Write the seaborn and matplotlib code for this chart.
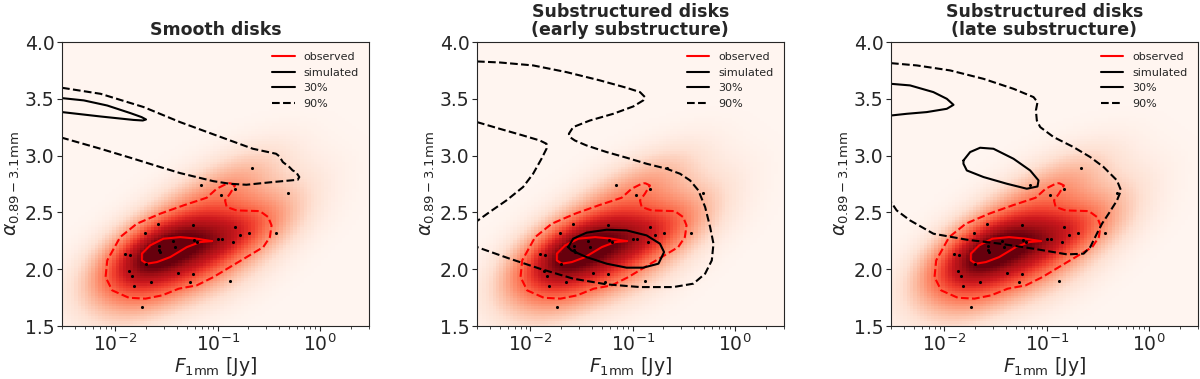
import matplotlib
matplotlib.use("Agg")
import matplotlib.pyplot as plt
import numpy as np
import seaborn as sns
from matplotlib.lines import Line2D
from seaborn._statistics import KDE

sns.set_style("ticks")
plt.rcParams['font.family'] = ['DejaVu Sans']

# observed disks: 1 mm flux [Jy] and spectral index
obs_flux = [0.216, 0.068, 0.484, 0.107, 0.147, 0.373, 0.0262, 0.0577, 0.147, 0.0196,
            0.201, 0.164, 0.0366, 0.0586, 0.0627, 0.101, 0.111, 0.141, 0.0268, 0.038,
            0.0265, 0.0275, 0.0123, 0.0140, 0.0199, 0.0135, 0.0145, 0.0413, 0.0573, 0.0224,
            0.0536, 0.0152, 0.0183, 0.132]
obs_alpha = [2.89, 2.744, 2.674, 2.650, 2.71, 2.322, 2.395, 2.389, 2.371, 2.316,
             2.319, 2.301, 2.245, 2.254, 2.237, 2.266, 2.269, 2.240, 2.204, 2.199,
             2.17, 2.155, 2.134, 2.125, 2.046, 1.984, 1.943, 1.967, 1.958, 1.887,
             1.890, 1.849, 1.667, 1.893]

titles = ["Smooth disks", "Substructured disks\n(early substructure)",
          "Substructured disks\n(late substructure)"]

# observed contours (flux, alpha)
obs_30_flux = [0.0875, 0.0624, 0.0430, 0.02944, 0.02183, 0.01811, 0.01811, 0.02028, 0.02541,
               0.0343, 0.0499, 0.0673, 0.0875]
obs_30_alpha = [2.248, 2.269, 2.283, 2.269, 2.210, 2.137, 2.078, 2.049, 2.063,
                2.107, 2.195, 2.239, 2.248]
obs_90_flux = [0.1318, 0.1476, 0.1318, 0.118, 0.1225, 0.1532, 0.2588, 0.3123, 0.3366, 0.3243,
               0.2791, 0.1919, 0.1318, 0.0908, 0.0624, 0.0416, 0.02858, 0.01966, 0.01352, 0.00929,
               0.00800, 0.00831, 0.01112, 0.01618, 0.02735, 0.04624, 0.0782, 0.0978, 0.1225, 0.1318]
obs_90_alpha = [2.759, 2.738, 2.665, 2.606, 2.548, 2.518, 2.512, 2.459, 2.386, 2.283,
                2.195, 2.107, 2.019, 1.931, 1.858, 1.829, 1.770, 1.741, 1.749, 1.814,
                1.931, 2.078, 2.283, 2.401, 2.489, 2.562, 2.630, 2.709, 2.753, 2.759]

# simulated contours (flux, alpha)
smooth_30_flux = [0.003, 0.0049, 0.0083, 0.014, 0.018, 0.0199, 0.0185, 0.015, 0.0072, 0.003]
smooth_30_alpha = [3.507, 3.487, 3.442, 3.375, 3.34, 3.319, 3.31, 3.315, 3.345, 3.384]
smooth_90_flux = [0.003, 0.00715, 0.0189, 0.0428, 0.0974, 0.221, 0.373, 0.402, 0.434, 0.503,
                  0.542, 0.584, 0.629, 0.607, 0.347, 0.1906, 0.131, 0.0903, 0.0428, 0.0274,
                  0.01507, 0.00715, 0.003]
smooth_90_alpha = [3.598, 3.545, 3.428, 3.296, 3.178, 3.061, 3.017, 2.994, 2.944, 2.90,
                   2.87, 2.856, 2.812, 2.788, 2.768, 2.744, 2.753, 2.776, 2.847, 2.90,
                   2.973, 3.061, 3.158]

early_30_flux = [0.0234, 0.0262, 0.0354, 0.0556, 0.0873, 0.137, 0.185, 0.203, 0.179, 0.127,
                 0.0873, 0.0556, 0.0354, 0.0252, 0.0234]
early_30_alpha = [2.195, 2.269, 2.322, 2.348, 2.342, 2.298, 2.225, 2.151, 2.049, 2.014,
                  2.014, 2.049, 2.107, 2.166, 2.195]
early_90a_flux = [0.003, 0.0050, 0.01062, 0.02254, 0.0479, 0.0873, 0.118, 0.132, 0.127, 0.1016,
                  0.0646, 0.0382, 0.0262, 0.02377, 0.0243, 0.0272, 0.0354, 0.0556, 0.0873, 0.137,
                  0.215, 0.291, 0.365, 0.440, 0.512, 0.573, 0.618, 0.595, 0.512, 0.393,
                  0.250, 0.118, 0.0556, 0.0262, 0.01235, 0.00627, 0.003]
early_90a_alpha = [3.830, 3.821, 3.795, 3.736, 3.663, 3.598, 3.560, 3.516, 3.487, 3.434,
                   3.369, 3.310, 3.252, 3.193, 3.164, 3.134, 3.090, 3.032, 2.982, 2.929,
                   2.885, 2.841, 2.782, 2.694, 2.548, 2.371, 2.225, 2.078, 1.961, 1.873,
                   1.843, 1.843, 1.867, 1.917, 2.005, 2.093, 2.195]
early_90b_flux = [0.003, 0.0050, 0.00847, 0.01235, 0.01436, 0.01436, 0.01283, 0.01062, 0.00847,
                  0.00582, 0.00399, 0.003]
early_90b_alpha = [3.296, 3.237, 3.178, 3.134, 3.105, 3.061, 2.973, 2.841, 2.724,
                   2.606, 2.504, 2.424]

late_30a_flux = [0.003, 0.00461, 0.0078, 0.01055, 0.01226, 0.01055, 0.00671, 0.00428, 0.003]
late_30a_alpha = [3.633, 3.619, 3.560, 3.501, 3.448, 3.413, 3.384, 3.369, 3.354]
late_30b_flux = [0.01535, 0.01784, 0.02234, 0.0302, 0.0474, 0.0690, 0.0833, 0.0814, 0.0640,
                 0.0408, 0.0241, 0.01656, 0.01535, 0.01535]
late_30b_alpha = [2.958, 3.032, 3.070, 3.061, 2.973, 2.870, 2.782, 2.729, 2.709,
                  2.753, 2.812, 2.870, 2.929, 2.958]
late_90_flux = [0.003, 0.00536, 0.01137, 0.0241, 0.0474, 0.0744, 0.0814, 0.0785, 0.0802, 0.0865,
                0.117, 0.183, 0.267, 0.361, 0.488, 0.534, 0.488, 0.404, 0.348, 0.310,
                0.267, 0.230, 0.158, 0.0744, 0.0351, 0.01656, 0.0078, 0.00461, 0.00341, 0.003]
late_90_alpha = [3.815, 3.795, 3.751, 3.677, 3.589, 3.516, 3.472, 3.398, 3.310, 3.252,
                 3.164, 3.076, 2.988, 2.900, 2.782, 2.694, 2.606, 2.489, 2.401, 2.313,
                 2.195, 2.137, 2.131, 2.181, 2.225, 2.260, 2.313, 2.430, 2.518, 2.592]

sim_curves = [
    [(smooth_30_flux, smooth_30_alpha, '-'), (smooth_90_flux, smooth_90_alpha, '--')],
    [(early_30_flux, early_30_alpha, '-'), (early_90a_flux, early_90a_alpha, '--'),
     (early_90b_flux, early_90b_alpha, '--')],
    [(late_30a_flux, late_30a_alpha, '-'), (late_30b_flux, late_30b_alpha, '-'),
     (late_90_flux, late_90_alpha, '--')],
]

# density image of the observed sample
kde = KDE(bw_adjust=1.4, gridsize=250, cut=10)
dens, (gx, gy) = kde(np.log10(obs_flux), np.array(obs_alpha))

fig = plt.figure(figsize=(12, 3.79), dpi=100)
lefts = [0.0517, 0.3975, 0.7425]
bg = plt.get_cmap('Reds')(0.0)

for i, left in enumerate(lefts):
    ax = fig.add_axes([left, 0.1398, 0.2555, 0.749])
    ax.set_facecolor(bg)
    ax.set_xscale('log')
    ax.pcolormesh(10 ** gx, gy, dens, cmap='Reds', vmin=0, vmax=0.9 * dens.max(),
                  shading='auto', rasterized=True)

    ax.plot(obs_90_flux, obs_90_alpha, color='red', ls='--', lw=1.5)
    ax.plot(obs_30_flux, obs_30_alpha, color='red', ls='-', lw=1.5)
    sns.scatterplot(x=obs_flux, y=obs_alpha, color='k', s=5, linewidth=0, ax=ax, zorder=5)

    for fx, al, ls in sim_curves[i]:
        ax.plot(fx, al, color='k', ls=ls, lw=1.5)

    ax.set_xlim(0.003, 3)
    ax.set_ylim(1.5, 4.0)
    ax.set_yticks([1.5, 2.0, 2.5, 3.0, 3.5, 4.0])
    ax.set_yticklabels(['1.5', '2.0', '2.5', '3.0', '3.5', '4.0'])
    ax.tick_params(which='major', labelsize=13.5, length=3.5, pad=2)
    ax.tick_params(which='minor', length=2)
    ax.set_xlabel(r'$F_{\rm 1mm}$ [Jy]', fontsize=13.5, labelpad=0)
    ax.set_ylabel(r'$\alpha_{0.89-3.1{\rm mm}}$', fontsize=13.5, labelpad=2)
    ax.set_title(titles[i], fontsize=12.5, fontweight='bold', linespacing=1.0, pad=5)

    handles = [Line2D([], [], color='red', lw=1.5), Line2D([], [], color='k', lw=1.5),
               Line2D([], [], color='k', lw=1.5), Line2D([], [], color='k', lw=1.5, ls='--')]
    ax.legend(handles, ['observed', 'simulated', '30%', '90%'], loc='upper right',
              frameon=False, fontsize=8)

fig.savefig('out.png', dpi=100)
